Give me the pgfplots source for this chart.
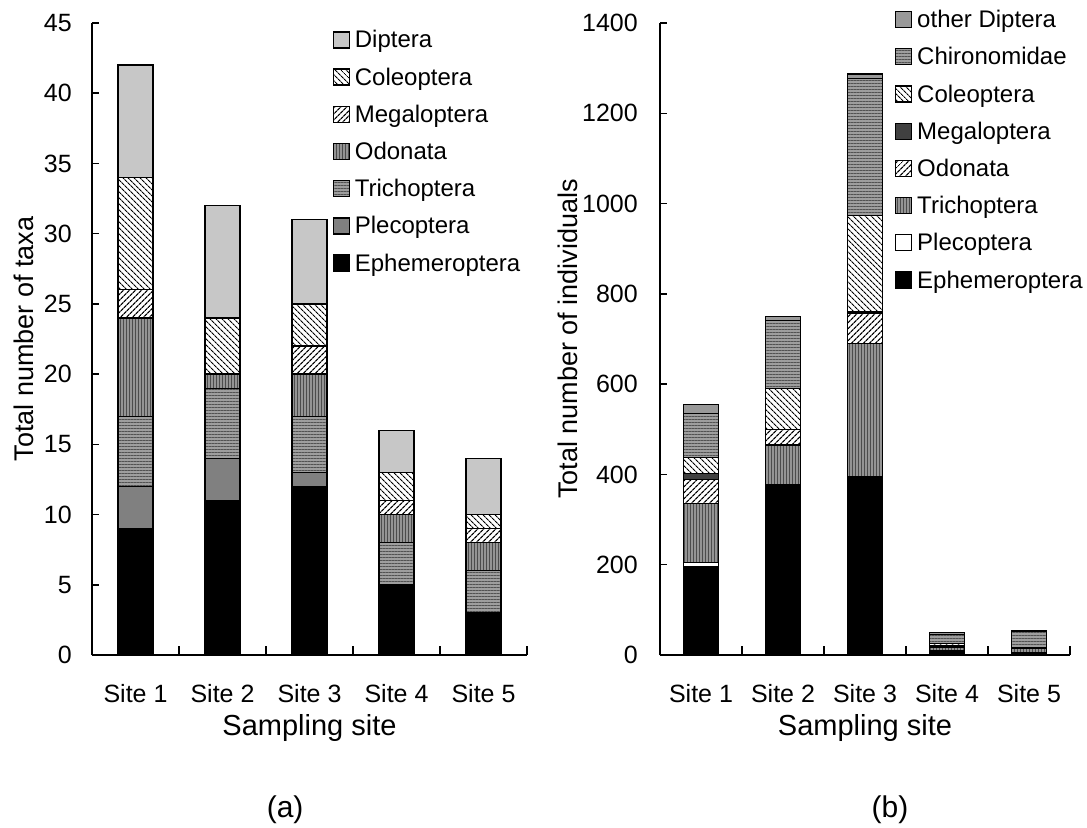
\documentclass[border=0pt]{standalone}
\usepackage{fontspec}
\setmainfont{Liberation Sans}
\usepackage{pgfplots}
\pgfplotsset{compat=1.18}
\usetikzlibrary{patterns,patterns.meta}

\pgfplotsset{
  myleg/.style={legend image code/.code={\draw[##1,draw=black,line width=1.3pt] (0pt,-8pt) rectangle (16pt,8pt);}},
  panel/.style={
    scale only axis, anchor=south west,
    ybar stacked, bar width=35pt,
    xmin=0.5, xmax=5.5, ymin=0,
    axis x line*=bottom, axis y line*=left,
    axis line style={line width=1.5pt},
    tick align=inside,
    xtick={1,2,3,4,5},
    xticklabels={Site 1,Site 2,Site 3,Site 4,Site 5},
    major x tick style={draw=none},
    minor xtick={0.5,1.5,2.5,3.5,4.5,5.5},
    minor tick length=9pt,
    major tick length=7pt,
    every tick/.style={black,line width=1.5pt},
    /pgf/number format/assume math mode=true,
    /pgf/number format/1000 sep={},
    tick label style={font=\fontsize{25}{29}\selectfont, inner sep=0pt},
    xticklabel style={anchor=base, yshift=-47pt},
    ylabel style={font=\fontsize{27}{31}\selectfont},
    xlabel style={font=\fontsize{29}{33}\selectfont, at={(axis description cs:0.5,0)}, anchor=base, yshift=-80pt},
    every axis plot post/.append style={myleg, draw=black, line width=1.3pt},
    legend style={draw=none, fill=none, inner sep=0pt, outer sep=0pt,
      font=\fontsize{24}{28}\selectfont,
      nodes={inner sep=0pt, text height=16pt, text depth=0pt},
      row sep=19.9pt, column sep=5pt},
    legend cell align=left,
    reverse legend,
    clip=false,
  }
}

\begin{document}
\begin{tikzpicture}
\path (0pt,0pt) rectangle (1087pt,827pt);

% ---------- panel (a)
\begin{axis}[panel,
  at={(92pt,172pt)}, width=435pt, height=632pt,
  ymax=45, ytick={0,5,...,45},
  yticklabel style={xshift=-20pt},
  xlabel={Sampling site},
  ylabel={Total number of taxa},
  ylabel style={at={(axis description cs:-0.156,0.5)}, anchor=center, rotate=0},
  legend style={at={(axis description cs:0.553,0.987)}, anchor=north west},
]
\addplot[fill=black] coordinates {(1,9) (2,11) (3,12) (4,5) (5,3)};
\addplot[fill=black!50] coordinates {(1,3) (2,3) (3,1) (4,0) (5,0)};
\addplot[fill=black!38, postaction={pattern={Lines[angle=0,distance=3pt,line width=0.9pt]}, pattern color=black!68}] coordinates {(1,5) (2,5) (3,4) (4,3) (5,3)};
\addplot[fill=black!42, postaction={pattern={Lines[angle=90,distance=3pt,line width=0.9pt]}, pattern color=black!70}] coordinates {(1,7) (2,1) (3,3) (4,2) (5,2)};
\addplot[fill=white, postaction={pattern={Lines[angle=45,distance=4pt,line width=1.3pt]}, pattern color=black}] coordinates {(1,2) (2,0) (3,2) (4,1) (5,1)};
\addplot[fill=white, postaction={pattern={Lines[angle=-45,distance=4pt,line width=1.1pt]}, pattern color=black}] coordinates {(1,8) (2,4) (3,3) (4,2) (5,1)};
\addplot[fill=black!22] coordinates {(1,8) (2,8) (3,6) (4,3) (5,4)};
\legend{Ephemeroptera,Plecoptera,Trichoptera,Odonata,Megaloptera,Coleoptera,Diptera}
\node[font=\fontsize{30}{34}\selectfont, anchor=base] at (axis description cs:0.444,-0.2575) {(a)};
\end{axis}

% ---------- panel (b)
\begin{axis}[panel,
  at={(660pt,172pt)}, width=410pt, height=632pt,
  ymax=1400, ytick={0,200,...,1400},
  yticklabel style={xshift=-22pt},
  xlabel={Sampling site},
  ylabel={Total number of individuals},
  ylabel style={at={(axis description cs:-0.224,0.5)}, anchor=center, rotate=0},
  legend style={at={(axis description cs:0.573,1.019)}, anchor=north west},
]
\addplot[fill=black] coordinates {(1,195) (2,378) (3,394) (4,8) (5,3)};
\addplot[fill=white] coordinates {(1,10) (2,0) (3,0) (4,2) (5,3)};
\addplot[fill=black!42, postaction={pattern={Lines[angle=90,distance=3pt,line width=0.9pt]}, pattern color=black!70}] coordinates {(1,131) (2,87) (3,296) (4,6) (5,8)};
\addplot[fill=white, postaction={pattern={Lines[angle=45,distance=4pt,line width=1.3pt]}, pattern color=black}] coordinates {(1,53) (2,35) (3,67) (4,2) (5,0)};
\addplot[fill=black!75] coordinates {(1,13) (2,0) (3,3) (4,2) (5,0)};
\addplot[fill=white, postaction={pattern={Lines[angle=-45,distance=4pt,line width=1.1pt]}, pattern color=black}] coordinates {(1,36) (2,90) (3,214) (4,6) (5,2)};
\addplot[fill=black!38, postaction={pattern={Lines[angle=0,distance=3pt,line width=0.9pt]}, pattern color=black!68}] coordinates {(1,97) (2,151) (3,303) (4,20) (5,36)};
\addplot[fill=black!40] coordinates {(1,20) (2,9) (3,10) (4,4) (5,3)};
\legend{Ephemeroptera,Plecoptera,Trichoptera,Odonata,Megaloptera,Coleoptera,Chironomidae,other Diptera}
\node[font=\fontsize{30}{34}\selectfont, anchor=base] at (axis description cs:0.561,-0.2575) {(b)};
\end{axis}
\end{tikzpicture}
\end{document}
